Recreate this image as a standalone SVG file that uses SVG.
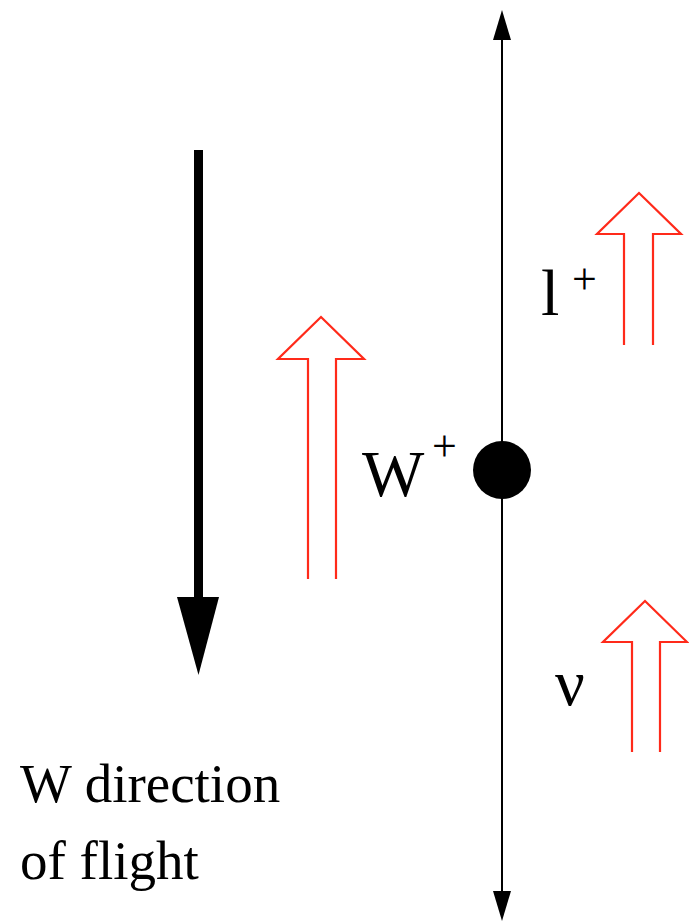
<svg xmlns="http://www.w3.org/2000/svg" width="689" height="922" viewBox="0 0 689 922">
<style>
.hollow{fill:none;stroke:#ff2a1a;stroke-width:2.2;stroke-linejoin:miter}
.t{font-family:"Liberation Serif","Times New Roman",serif;fill:#000}
.axis{stroke:#000;stroke-width:2;fill:none}
.head{fill:#000}
</style>
<g id="connectors">
<line class="axis" x1="502" y1="14" x2="502" y2="916"/>
<path class="head" d="M493,40 L502,10 L511,40 Z"/>
<path class="head" d="M493,891 L502,921 L511,891 Z"/>
</g>
<g id="flight-arrow">
<line x1="198.5" y1="150" x2="198.5" y2="600" stroke="#000" stroke-width="9"/>
<path class="head" d="M177,597 L219,597 L198.5,675 Z"/>
</g>
<g id="w-spin-arrow">
<path class="hollow" d="M308,579 L308,359 L278,359 L321,317 L364,359 L336,359 L336,579"/>
</g>
<g id="lepton-spin-arrow">
<path class="hollow" d="M624,345 L624,234 L597,234 L639,193 L681,234 L653,234 L653,345"/>
</g>
<g id="nu-spin-arrow">
<path class="hollow" d="M632,752 L632,642 L603,642 L645,601 L687,642 L660,642 L660,752"/>
</g>
<g id="W">
<circle cx="502" cy="470" r="29" fill="#000"/>
<text class="t" x="362" y="496" font-size="66">W</text>
<text class="t" x="432" y="461" font-size="44">+</text>
</g>
<g id="lepton">
<text class="t" x="541" y="315" font-size="66">l</text>
<text class="t" x="572" y="294" font-size="44">+</text>
</g>
<g id="neutrino">
<text class="t" x="555" y="705" font-size="66">ν</text>
</g>
<g id="label">
<text class="t" x="20" y="802" font-size="55">W direction</text>
<text class="t" x="20" y="879" font-size="55">of flight</text>
</g>
</svg>
